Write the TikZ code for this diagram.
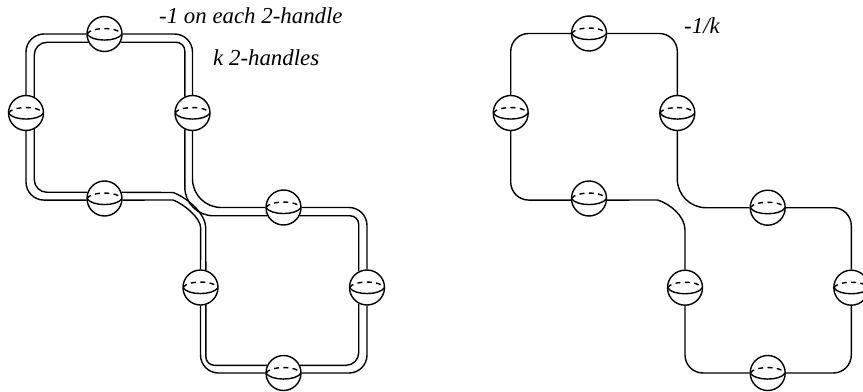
\documentclass[tikz,border=0pt]{standalone}
\usepackage{fontspec}
\setmainfont{Liberation Serif}
\tikzset{
  ball/.style={circle, draw=black, line width=0.42mm, minimum size=10.5mm, path picture={
      \draw [black, line width=0.42mm] (path picture bounding box.west) .. controls +(-60:2.8mm) and +(240:2.8mm) .. (path picture bounding box.east);
      \draw [black, line width=0.42mm, dash pattern=on 1.5mm off 1.3mm] (path picture bounding box.west) .. controls +(60:2.5mm) and +(120:2.5mm) .. (path picture bounding box.east);
  }},
  strand/.style={black, line width=0.42mm},
  wide/.style={strand, rounded corners=5.4mm},
  tight/.style={strand, rounded corners=2.6mm},
  roomy/.style={strand, rounded corners=3.8mm},
  sweep/.style={strand, rounded corners=8.6mm},
  lbl/.style={font=\itshape\fontsize{19.5pt}{22pt}\selectfont, anchor=base west}
}
\begin{document}
\begin{tikzpicture}[x=0.3mm, y=0.3mm]
                \tikzstyle{every node}+=[inner sep=0pt]
                \useasboundingbox (0,0) rectangle (863,-391);
                % left picture, doubled strands
                \node [ball] (a1t) at (104.5,-34) {};
                \node [ball] (a1l) at (26,-113) {};
                \node [ball] (a1r) at (192.5,-113) {};
                \node [ball] (a1b) at (104.5,-198.5) {};
                \node [ball] (a2t) at (283.5,-207.5) {};
                \node [ball] (a2l) at (200.5,-287.5) {};
                \node [ball] (a2r) at (367,-287.5) {};
                \node [ball] (a2b) at (283.5,-373) {};
                \draw [wide] (a1t.west) -| (a1l.north);
                \draw [wide] (a1t.east) -| (a1r.north);
                \draw [wide] (a1l.south) |- (a1b.185);
                \draw [roomy] (a1t.207) -| (a1l.63);
                \draw [tight] (a1t.-27) -| (a1r.115);
                \draw [roomy] (a1l.-63) |- (a1b.160);
                \draw [sweep] (a1r.south) |- (a2t.west);
                \draw [sweep] (a1r.-115) |- (a2t.207);
                \coordinate (a1up) at (173,-192.5);
                \coordinate (a1lo) at (173,-200);
                \coordinate (a2in) at (205.7,-228);
                \coordinate (a2out) at (200.7,-228);
                \draw [strand] (a1b.20) -- (a1up) .. controls (186,-197) and (205.7,-213) .. (a2in) -- (a2l.73);
                \draw [strand] (a1b.-5) -- (a1lo) .. controls (184,-204) and (200.7,-218) .. (a2out) -- (a2l.north);
                \draw [wide] (a2t.east) -| (a2r.north);
                \draw [tight] (a2t.-27) -| (a2r.117);
                \draw [wide] (a2r.south) |- (a2b.east);
                \draw [roomy] (a2r.-117) |- (a2b.25);
                \draw [wide] (a2l.south) |- (a2b.west);
                \draw [tight] (a2l.-73) |- (a2b.155);
                \node [lbl] (each) at (159,-24) {-1 on each 2-handle};
                \node [lbl] (many) at (213,-66) {k 2-handles};
                % right picture, one strand
                \node [ball] (b1t) at (589,-33.5) {};
                \node [ball] (b1l) at (510.7,-113) {};
                \node [ball] (b1r) at (677.3,-113) {};
                \node [ball] (b1b) at (589,-198.5) {};
                \node [ball] (b2t) at (767.7,-207.7) {};
                \node [ball] (b2l) at (685,-287.7) {};
                \node [ball] (b2r) at (851.3,-287.7) {};
                \node [ball] (b2b) at (767.7,-373) {};
                \draw [wide] (b1t.west) -| (b1l.north);
                \draw [wide] (b1t.east) -| (b1r.north);
                \draw [wide] (b1l.south) |- (b1b.185);
                \draw [sweep] (b1r.south) |- (b2t.west);
                \coordinate (b1up) at (657.7,-200);
                \coordinate (b2in) at (685,-230);
                \draw [strand] (b1b.-5) -- (b1up) .. controls (670,-204) and (685,-216) .. (b2in) -- (b2l.north);
                \draw [wide] (b2t.east) -| (b2r.north);
                \draw [wide] (b2r.south) |- (b2b.east);
                \draw [wide] (b2l.south) |- (b2b.west);
                \node [lbl] (frac) at (684,-34) {-1/k};
\end{tikzpicture}
\end{document}
